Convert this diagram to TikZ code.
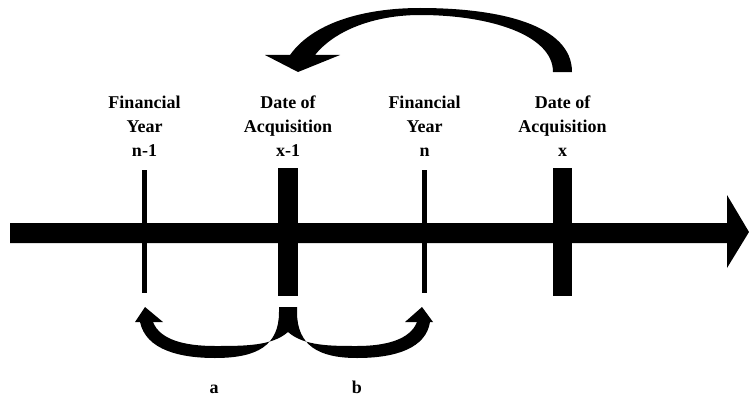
\documentclass[tikz,border=0pt]{standalone}
\usepackage{fontspec}
\setmainfont{Liberation Serif}
\usetikzlibrary{calc, positioning}
\tikzset{lbl/.style={align=center, anchor=base, inner sep=0pt, font=\bfseries\fontsize{18}{24}\selectfont}}
\newcommand\tmark[5]{\fill (#2-#3,#4) rectangle (#2+#3,#5) coordinate (#1);}

\begin{document}
\begin{tikzpicture}[x=1pt,y=-1pt]
\useasboundingbox (0,0) rectangle (749,396);

% time line
\fill (10,223) -- (727,223) -- (727,195) -- (749,232) -- (727,268) -- (727,243) -- (10,243) -- cycle;

% marks on the line
\tmark{m1}{144.5}{2.5}{170}{293};
\tmark{m2}{288}{10}{168}{296};
\tmark{m3}{424.5}{2.5}{170}{293};
\tmark{m4}{562.5}{9.5}{168}{296};

\node[lbl] (fy1) at (144.5,156) {Financial\\Year\\n-1};
\node[lbl] (da1) at (288,156) {Date of\\Acquisition\\x-1};
\node[lbl] (fy2) at (424.5,156) {Financial\\Year\\n};
\node[lbl] (da2) at (562.5,156) {Date of\\Acquisition\\x};

% arrow back from x to x-1
\fill (553,72) -- (572,72) .. controls (572,25) and (500,8) .. (420,8)
  .. controls (370,8) and (315,20) .. (290,55) -- (265,55) -- (298,72) -- (340,55) -- (315,55)
  .. controls (335,30) and (375,15) .. (420,15) .. controls (490,15) and (553,35) .. (553,72) -- cycle;

% arrows a and b
\fill (288,332) .. controls (272,346) and (245,346) .. (215,346)
  .. controls (185,346) and (160,340) .. (153,322) -- (163,322) -- (145,307) -- (135,322) -- (140,322)
  .. controls (146,350) and (180,358) .. (215,358) .. controls (258,358) and (279,345) .. (279,312)
  -- (279,307) -- (297,307) -- (297,312)
  .. controls (297,345) and (318,358) .. (357,358) .. controls (396,358) and (426,348) .. (430,322)
  -- (433,322) -- (422,307) -- (405,322) -- (417,322)
  .. controls (410,340) and (385,346) .. (357,346) .. controls (330,346) and (304,346) .. (288,332) -- cycle;

\node[lbl] (a) at (214,393) {a};
\node[lbl] (b) at (357,393) {b};
\end{tikzpicture}
\end{document}
